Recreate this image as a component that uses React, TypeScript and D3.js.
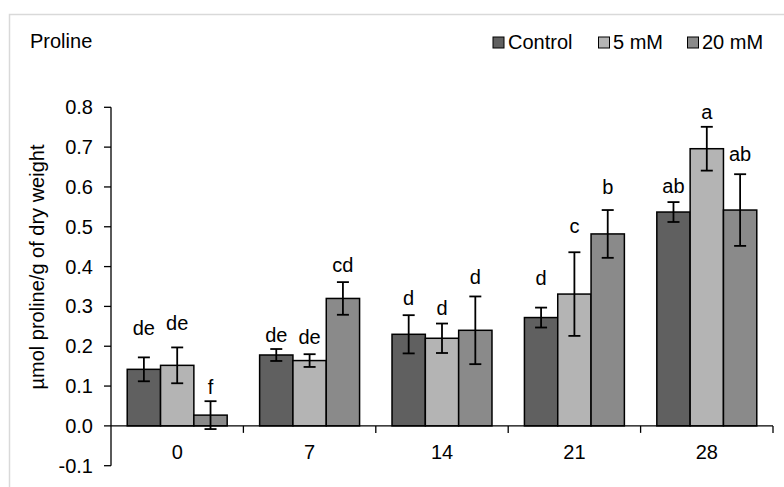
import React from "react";
import * as d3 from "d3";

const categories = ["0", "7", "14", "21", "28"];
const seriesNames = ["Control", "5 mM", "20 mM"];
const controlMeans = [0.142, 0.178, 0.23, 0.272, 0.537];
const mM5Means = [0.152, 0.164, 0.22, 0.331, 0.696];
const mM20Means = [0.027, 0.32, 0.24, 0.482, 0.542];
const controlErr = [0.03, 0.015, 0.048, 0.025, 0.025];
const mM5Err = [0.045, 0.016, 0.037, 0.105, 0.055];
const mM20Err = [0.035, 0.041, 0.085, 0.06, 0.09];
const controlLetters = ["de", "de", "d", "d", "ab"];
const mM5Letters = ["de", "de", "d", "c", "a"];
const mM20Letters = ["f", "cd", "d", "b", "ab"];
// value level (in y units) at which each significance letter sits
const controlLetterLevel = [0.245, 0.228, 0.32, 0.371, 0.602];
const mM5LetterLevel = [0.259, 0.224, 0.296, 0.502, 0.789];
const mM20LetterLevel = [0.097, 0.403, 0.374, 0.6, 0.683];
const yTicks = [-0.1, 0, 0.1, 0.2, 0.3, 0.4, 0.5, 0.6, 0.7, 0.8];
const yTitle = "µmol proline/g of dry weight";
const chartTitle = "Proline";

const colors = ["#606060", "#b4b4b4", "#8a8a8a"];
const FONT = "'Liberation Sans', Arial, sans-serif";
const FS = 20;

export default function App() {
  const W = 784, H = 487;
  const left = 111, right = 773, top = 107.3, bottom = 465.7;
  const y = d3.scaleLinear().domain([-0.1, 0.8]).range([bottom, top]);
  const x = d3.scaleBand<string>().domain(categories).range([left, right]).paddingInner(0.245).paddingOuter(0.1225);
  const xs = d3.scaleBand<string>().domain(seriesNames).range([0, x.bandwidth()]).padding(0);
  const means = [controlMeans, mM5Means, mM20Means];
  const errs = [controlErr, mM5Err, mM20Err];
  const letters = [controlLetters, mM5Letters, mM20Letters];
  const levels = [controlLetterLevel, mM5LetterLevel, mM20LetterLevel];
  const y0 = y(0);
  const step = x.step();
  const bounds = categories.map((_, i) => left + step * (i + 1));

  return (
    <svg width={W} height={H} style={{ position: "absolute", left: 0, top: 0, background: "#fff" }} fontFamily={FONT}>
      <rect x={0} y={0} width={W} height={H} fill="#fff" />
      {/* outer frame */}
      <path d={`M9.5,${H} V14.5 H${W}`} fill="none" stroke="#d9d9d9" strokeWidth={1.5} />
      <text x={30} y={48} fontSize={FS} fill="#000">{chartTitle}</text>
      {/* legend */}
      {(() => {
        const items = [
          { name: seriesNames[0], sx: 493, tx: 508 },
          { name: seriesNames[1], sx: 598.5, tx: 613 },
          { name: seriesNames[2], sx: 687.5, tx: 702 },
        ];
        return items.map((it, i) => (
          <g key={it.name}>
            <rect x={it.sx} y={37} width={11} height={11} fill={colors[i]} stroke="#000" strokeWidth={1} />
            <text x={it.tx} y={49} fontSize={FS}>{it.name}</text>
          </g>
        ));
      })()}
      {/* y axis */}
      <line x1={left} x2={left} y1={top} y2={bottom} stroke="#000" strokeWidth={1.3} />
      {yTicks.map((t) => (
        <g key={t}>
          <line x1={left - 7} x2={left} y1={y(t)} y2={y(t)} stroke="#000" strokeWidth={1.3} />
          <text x={93} y={y(t)} dy="0.35em" textAnchor="end" fontSize={FS}>{t.toFixed(1)}</text>
        </g>
      ))}
      <text transform={`translate(44,267) rotate(-90)`} textAnchor="middle" fontSize={FS}>{yTitle}</text>
      {/* bars */}
      {categories.map((c, ci) => (
        <g key={c}>
          {seriesNames.map((s, si) => {
            const v = means[si][ci];
            const bx = (x(c) as number) + (xs(s) as number);
            const bw = xs.bandwidth();
            const cx = bx + bw / 2;
            const e = errs[si][ci];
            return (
              <g key={s}>
                <rect x={bx} y={Math.min(y(v), y0)} width={bw} height={Math.abs(y0 - y(v))} fill={colors[si]} stroke="#000" strokeWidth={1.5} />
                <line x1={cx} x2={cx} y1={y(v + e)} y2={y(v - e)} stroke="#000" strokeWidth={1.8} />
                <line x1={cx - 6} x2={cx + 6} y1={y(v + e)} y2={y(v + e)} stroke="#000" strokeWidth={1.8} />
                <line x1={cx - 6} x2={cx + 6} y1={y(v - e)} y2={y(v - e)} stroke="#000" strokeWidth={1.8} />
                <text x={cx} y={y(levels[si][ci])} dy="0.35em" textAnchor="middle" fontSize={FS}>{letters[si][ci]}</text>
              </g>
            );
          })}
          <text x={(x(c) as number) + x.bandwidth() / 2} y={452} dy="0.35em" textAnchor="middle" fontSize={FS}>{c}</text>
        </g>
      ))}
      {/* zero line and category ticks */}
      <line x1={left} x2={right} y1={y0} y2={y0} stroke="#000" strokeWidth={1.3} />
      {bounds.map((b, i) => (
        <line key={i} x1={b} x2={b} y1={y0} y2={y0 + 7} stroke="#000" strokeWidth={1.3} />
      ))}
    </svg>
  );
}
